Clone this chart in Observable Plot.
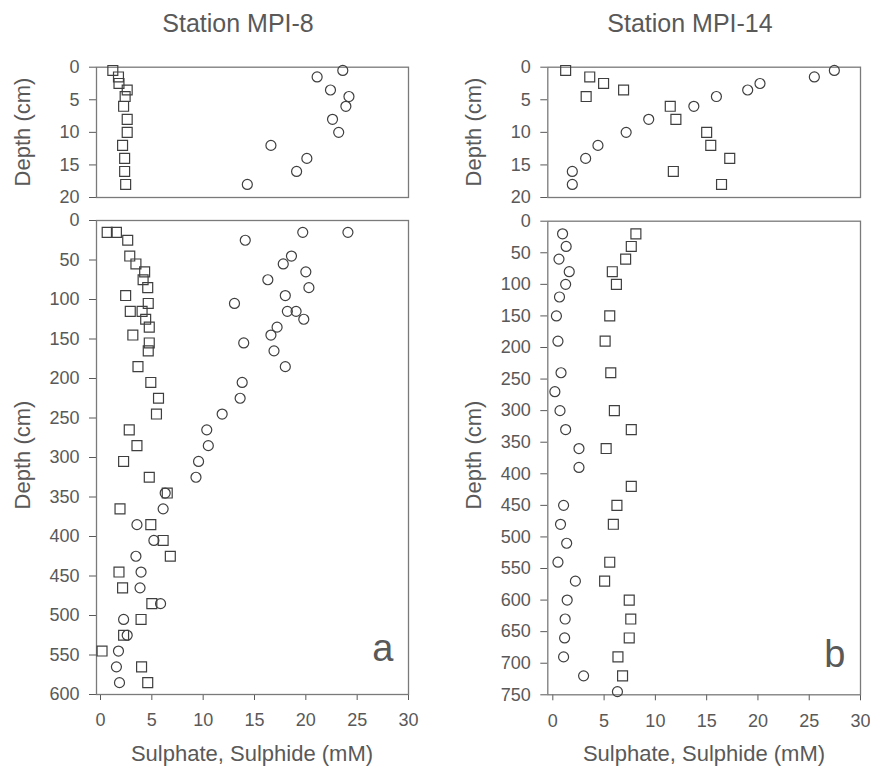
<!DOCTYPE html>
<html><head><meta charset="utf-8">
<script src="https://cdn.jsdelivr.net/npm/d3@7"></script>
<script src="https://cdn.jsdelivr.net/npm/@observablehq/plot@0.6"></script>
<style>
body{margin:0;background:#fff;}
#c{position:relative;width:870px;height:767px;font-family:"Liberation Sans",Arial,sans-serif;color:#595959;overflow:hidden;}
.lbl{position:absolute;white-space:nowrap;line-height:1;}
#c svg{position:absolute;}
</style></head><body><div id="c"></div>
<script>
// ---- Station MPI-8, short core (0-20 cm)
const depth8sSulphide = [0.5,1.5,2.5,3.5,4.5,6,8,10,12,14,16,18];
const sulphide8s      = [1.2,1.75,1.8,2.6,2.4,2.25,2.6,2.6,2.15,2.35,2.35,2.45];
const depth8sSulphate = [0.5,1.5,3.5,4.5,6,8,10,12,14,16,18];
const sulphate8s      = [23.6,21.1,22.4,24.2,23.9,22.6,23.2,16.6,20.1,19.1,14.3];
// ---- Station MPI-8, long core (0-600 cm)
const depth8l = [15,15,25,45,55,65,75,85,95,105,115,115,125,135,145,155,165,185,205,225,245,265,285,305,325,345,365,385,405,425,445,465,485,505,525,545,565,585];
const sulphide8l = [0.65,1.55,2.65,2.85,3.45,4.3,4.15,4.6,2.45,4.65,2.9,4.05,4.4,4.75,3.15,4.75,4.65,3.65,4.9,5.65,5.45,2.8,3.55,2.25,4.75,6.5,1.9,4.9,6.1,6.8,1.8,2.15,5.0,3.95,2.25,0.15,4.0,4.6];
const sulphate8l = [24.1,19.7,14.1,18.6,17.8,20.0,16.3,20.3,18.0,13.05,18.2,19.05,19.8,17.2,16.6,13.95,16.9,18.0,13.8,13.6,11.85,10.35,10.5,9.55,9.3,6.3,6.1,3.55,5.2,3.45,3.95,3.85,5.85,2.25,2.6,1.75,1.55,1.85];
// ---- Station MPI-14, short core (0-20 cm)
const depth14s = [0.5,1.5,2.5,3.5,4.5,6,8,10,12,14,16,18];
const sulphide14s = [1.25,3.6,4.95,6.9,3.25,11.45,12.0,15.0,15.4,17.25,11.75,16.45];
const sulphate14s = [27.45,25.5,20.2,19.0,15.95,13.75,9.35,7.15,4.4,3.2,1.9,1.9];
// ---- Station MPI-14, long core (0-750 cm)
const depth14lSulphate = [20,40,60,80,100,120,150,190,240,270,300,330,360,390,450,480,510,540,570,600,630,660,690,720,745];
const sulphate14l      = [0.95,1.3,0.6,1.6,1.25,0.65,0.35,0.5,0.8,0.2,0.7,1.25,2.55,2.55,1.05,0.75,1.35,0.5,2.2,1.4,1.2,1.15,1.05,3.0,6.3];
const depth14lSulphide = [20,40,60,80,100,150,190,240,300,330,360,420,450,480,540,570,600,630,660,690,720];
const sulphide14l      = [8.1,7.65,7.1,5.8,6.2,5.55,5.1,5.65,6.0,7.65,5.2,7.65,6.25,5.9,5.55,5.05,7.45,7.6,7.45,6.35,6.8];
// ---- ticks & labels
const xTicks = [0,5,10,15,20,25,30];
const yTicksShort = [0,5,10,15,20];
const yTicks8l = [0,50,100,150,200,250,300,350,400,450,500,550,600];
const yTicks14l = [0,50,100,150,200,250,300,350,400,450,500,550,600,650,700,750];
const titles = ["Station MPI-8", "Station MPI-14"];
const yLabel = "Depth (cm)";
const xLabel = "Sulphate, Sulphide (mM)";
const letters = ["a", "b"];

const zip = (ds, vs) => ds.map((d, i) => ({d, v: vs[i]}));
const c = document.getElementById("c");

function panel(o) {
  const marks = [
    Plot.frame({stroke: "#7a7a7a", strokeWidth: 1.3}),
    Plot.dot(o.ci, {x: "v", y: "d", r: 5, stroke: "#3f3f3f", strokeWidth: 1.2, fill: "none"}),
    Plot.dot(o.sq, {x: "v", y: "d", symbol: "square", r: 5.6, stroke: "#3f3f3f", strokeWidth: 1.2, fill: "none"})
  ];
  if (o.letter) marks.push(Plot.text([o.letter], {text: d => d, frameAnchor: "bottom-right", textAnchor: "end", lineAnchor: "bottom", dx: o.ldx, dy: o.ldy, fontSize: 38, fill: "#595959"}));
  const svg = Plot.plot({
    width: o.width, height: o.height,
    marginLeft: o.ml, marginRight: o.mr, marginTop: o.mt, marginBottom: o.mb,
    x: o.xAxis ? {domain: o.xDomain, ticks: xTicks, tickSize: 6, tickPadding: 13, label: null}
               : {domain: o.xDomain, axis: null},
    y: {domain: o.yDomain, reverse: true, ticks: o.yTicks, tickSize: 7, tickPadding: 10, label: null},
    style: {background: "transparent", color: "#595959", fontSize: "18px", fontFamily: "'Liberation Sans', Arial, sans-serif", overflow: "visible"},
    marks
  });
  svg.style.left = o.left + "px";
  svg.style.top = o.top + "px";
  c.appendChild(svg);
}

const xDomL = [-0.39, 30], xDomR = [-0.49, 30];
panel({sq: zip(depth8sSulphide, sulphide8s), ci: zip(depth8sSulphate, sulphate8s), yDomain: [0,20], yTicks: yTicksShort, xAxis: false, xDomain: xDomL,
  left: 0, top: 40, width: 435, height: 170, ml: 96, mr: 27, mt: 26.7, mb: 13});
panel({sq: zip(depth8l, sulphide8l), ci: zip(depth8l, sulphate8l), yDomain: [0,600], yTicks: yTicks8l, xAxis: true, xDomain: xDomL,
  left: 0, top: 205, width: 435, height: 525, ml: 96, mr: 27, mt: 15, mb: 36, letter: letters[0], ldx: -15, ldy: -34});
panel({sq: zip(depth14s, sulphide14s), ci: zip(depth14s, sulphate14s), yDomain: [0,20], yTicks: yTicksShort, xAxis: false, xDomain: xDomR,
  left: 440, top: 40, width: 430, height: 170, ml: 107.3, mr: 10, mt: 26.7, mb: 13});
panel({sq: zip(depth14lSulphide, sulphide14l), ci: zip(depth14lSulphate, sulphate14l), yDomain: [0,750], yTicks: yTicks14l, xAxis: true, xDomain: xDomR,
  left: 440, top: 205, width: 430, height: 525, ml: 107.3, mr: 10, mt: 15.7, mb: 35.7, letter: letters[1], ldx: -15, ldy: -27.6});

function label(text, cx, baseline, size, rotate) {
  const el = document.createElement("div");
  el.className = "lbl";
  el.textContent = text;
  el.style.fontSize = size + "px";
  if (rotate) {
    el.style.left = cx + "px";
    el.style.top = baseline + "px";
    el.style.transform = "translate(-50%,-50%) rotate(-90deg)";
  } else {
    el.style.left = cx + "px";
    el.style.top = (baseline - 0.85 * size) + "px";
    el.style.transform = "translateX(-50%)";
  }
  c.appendChild(el);
}
label(titles[0], 238, 32.7, 25);
label(titles[1], 690, 32.7, 25);
label(yLabel, 23, 131.8, 22, true);
label(yLabel, 23, 454.5, 22, true);
label(yLabel, 474, 131.8, 22, true);
label(yLabel, 474, 455, 22, true);
label(xLabel, 252, 761.5, 22);
label(xLabel, 704, 761.5, 22);
</script>
</body></html>
